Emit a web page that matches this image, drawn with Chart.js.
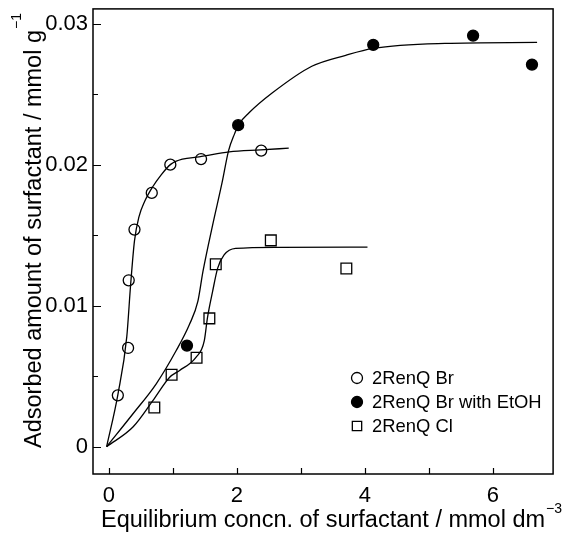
<!DOCTYPE html>
<html>
<head>
<meta charset="utf-8">
<script src="https://cdn.jsdelivr.net/npm/chart.js@4.4.0/dist/chart.umd.min.js"></script>
<style>
  html, body { margin: 0; padding: 0; background: #fff; }
  #wrap { width: 562px; height: 535px; }
</style>
</head>
<body>
<div id="wrap"><canvas id="adsorptionChart"></canvas></div>
<script>
// measured points: equilibrium concentration (mmol dm-3) vs adsorbed amount (mmol g-1)
const brConc = [0.14, 0.30, 0.31, 0.40, 0.67, 0.96, 1.44, 2.38];
const brAmount = [0.00364, 0.0070, 0.0118, 0.0154, 0.0180, 0.0200, 0.0204, 0.0210];

const etohConc = [1.22, 2.02, 4.13, 5.69, 6.61];
const etohAmount = [0.00717, 0.0228, 0.0285, 0.02916, 0.0271];

const clConc = [0.71, 0.98, 1.37, 1.57, 1.67, 2.53, 3.71];
const clAmount = [0.00277, 0.0051, 0.0063, 0.0091, 0.01294, 0.01463, 0.01264];

// hand-drawn isotherm curves through each series
const brFitConc = [-0.035, 0.14, 0.28, 0.34, 0.40, 0.47, 0.56, 0.68, 0.82, 0.97, 1.15, 1.41, 1.88, 2.37, 2.81];
const brFitAmount = [0, 0.00368, 0.0078, 0.0115, 0.0146, 0.0163, 0.0174, 0.0184, 0.0193, 0.02004, 0.0204, 0.02055, 0.02091, 0.02105, 0.02117];

const etohFitConc = [-0.035, 0.38, 0.74, 1.05, 1.26, 1.39, 1.47, 1.62, 1.77, 1.87, 1.96, 2.03, 2.19, 2.55, 3.17, 3.70, 4.13, 5.25, 6.69];
const etohFitAmount = [0, 0.00235, 0.00446, 0.0068, 0.00868, 0.0103, 0.01243, 0.0157, 0.01876, 0.0210, 0.02215, 0.02286, 0.02368, 0.02508, 0.02698, 0.02776, 0.02825, 0.0286, 0.02867];

const clFitConc = [-0.035, 0.38, 0.69, 0.95, 1.10, 1.36, 1.49, 1.54, 1.62, 1.70, 1.80, 1.98, 2.66, 4.04];
const clFitAmount = [0, 0.00141, 0.00328, 0.00492, 0.00539, 0.00633, 0.0075, 0.00914, 0.0110, 0.01266, 0.0136, 0.01406, 0.01414, 0.01415];

// axis ticks
const xMajorTicks = [0, 2, 4, 6];
const xMinorTicks = [1, 3, 5];
const yMajorTicks = [0, 0.01, 0.02, 0.03];
const yMinorTicks = [0.005, 0.015, 0.025];

const seriesNames = ['2RenQ Br', '2RenQ Br with EtOH', '2RenQ Cl'];

const FONT = '"Liberation Sans", Arial, sans-serif';

function toPoints(xs, ys) {
    return xs.map(function (x, i) { return { x: x, y: ys[i] }; });
}

function fitLine(xs, ys) {
    return {
        data: toPoints(xs, ys),
        showLine: true,
        borderColor: '#000',
        borderWidth: 1.3,
        pointRadius: 0,
        cubicInterpolationMode: 'monotone',
        fill: false
    };
}

const markerStyles = [
    { pointStyle: 'circle', radius: 5.5, fill: 'rgba(0,0,0,0)' },
    { pointStyle: 'circle', radius: 5.5, fill: '#000' },
    { pointStyle: 'rect', radius: 7.6, fill: 'rgba(0,0,0,0)' }
];

function markerSet(xs, ys, style) {
    return {
        data: toPoints(xs, ys),
        showLine: false,
        pointStyle: style.pointStyle,
        pointRadius: style.radius,
        pointBackgroundColor: style.fill,
        pointBorderColor: '#000',
        pointBorderWidth: 1.3
    };
}

// keep the tick labels from pushing the plot frame inwards
function noLabelPadding(scale) {
    scale.paddingTop = 0;
    scale.paddingBottom = 0;
    scale.paddingLeft = 0;
    scale.paddingRight = 0;
}

// frame, inward ticks, axis titles with superscripts, legend
const decorations = {
    id: 'decorations',
    afterDraw: function (chart) {
        const ctx = chart.ctx;
        const area = chart.chartArea;
        const xs = chart.scales.x;
        const ys = chart.scales.y;

        ctx.save();
        ctx.strokeStyle = '#000';
        ctx.lineWidth = 1.5;
        ctx.strokeRect(area.left, area.top, area.right - area.left, area.bottom - area.top);

        ctx.lineWidth = 1.2;
        ctx.beginPath();
        xMajorTicks.concat(xMinorTicks).forEach(function (v) {
            const px = Math.round(xs.getPixelForValue(v)) + 0.5;
            ctx.moveTo(px, area.bottom);
            ctx.lineTo(px, area.bottom - 6);
        });
        yMajorTicks.forEach(function (v) {
            const py = Math.round(ys.getPixelForValue(v)) + 0.5;
            ctx.moveTo(area.left, py);
            ctx.lineTo(area.left + 8, py);
        });
        yMinorTicks.forEach(function (v) {
            const py = Math.round(ys.getPixelForValue(v)) + 0.5;
            ctx.moveTo(area.left, py);
            ctx.lineTo(area.left + 5, py);
        });
        ctx.stroke();

        // axis titles
        ctx.fillStyle = '#000';
        ctx.textBaseline = 'alphabetic';
        ctx.textAlign = 'left';
        ctx.font = '23.5px ' + FONT;
        const xMain = 'Equilibrium concn. of surfactant / mmol dm';
        ctx.fillText(xMain, 101, 527);
        const xw = ctx.measureText(xMain).width;
        ctx.font = '14px ' + FONT;
        ctx.fillText('\u22123', 101 + xw + 1, 513);

        ctx.save();
        ctx.translate(41, 448);
        ctx.rotate(-Math.PI / 2);
        ctx.font = '23.5px ' + FONT;
        const yMain = 'Adsorbed amount of surfactant / mmol g';
        ctx.fillText(yMain, 0, 0);
        const yw = ctx.measureText(yMain).width;
        ctx.font = '14px ' + FONT;
        ctx.fillText('\u22121', yw + 1, -20);
        ctx.restore();

        // legend
        const legendX = 357;
        const legendY = [378, 402, 426];
        ctx.font = '18.4px ' + FONT;
        ctx.textBaseline = 'middle';
        seriesNames.forEach(function (name, i) {
            const st = markerStyles[i];
            ctx.fillStyle = st.fill;
            ctx.strokeStyle = '#000';
            ctx.lineWidth = 1.3;
            Chart.helpers.drawPoint(ctx, {
                pointStyle: st.pointStyle,
                radius: st.pointStyle === 'rect' ? 6.6 : 5.5,
                rotation: 0,
                borderWidth: 1.3
            }, legendX, legendY[i]);
            ctx.fillStyle = '#000';
            ctx.fillText(name, legendX + 15, legendY[i] + 1);
        });
        ctx.restore();
    }
};

const ctx = document.getElementById('adsorptionChart').getContext('2d');

new Chart(ctx, {
    type: 'scatter',
    data: {
        datasets: [
            markerSet(brConc, brAmount, markerStyles[0]),
            markerSet(etohConc, etohAmount, markerStyles[1]),
            markerSet(clConc, clAmount, markerStyles[2]),
            fitLine(brFitConc, brFitAmount),
            fitLine(etohFitConc, etohFitAmount),
            fitLine(clFitConc, clFitAmount)
        ]
    },
    options: {
        responsive: true,
        maintainAspectRatio: false,
        animation: false,
        layout: {
            padding: { left: 0, right: 4, top: 5, bottom: 0 }
        },
        scales: {
            x: {
                type: 'linear',
                min: -0.248,
                max: 6.94,
                grid: { display: false, drawTicks: false },
                border: { display: false },
                afterBuildTicks: function (scale) {
                    scale.ticks = xMajorTicks.map(function (v) { return { value: v }; });
                },
                afterFit: function (scale) {
                    scale.height = 61;
                    noLabelPadding(scale);
                },
                afterUpdate: noLabelPadding,
                ticks: {
                    padding: 9,
                    color: '#000',
                    font: { family: FONT, size: 22 },
                    maxRotation: 0,
                    callback: function (v) { return String(v); }
                }
            },
            y: {
                type: 'linear',
                min: -0.00194,
                max: 0.03105,
                grid: { display: false, drawTicks: false },
                border: { display: false },
                afterBuildTicks: function (scale) {
                    scale.ticks = yMajorTicks.map(function (v) { return { value: v }; });
                },
                afterFit: function (scale) {
                    scale.width = 93;
                    noLabelPadding(scale);
                },
                afterUpdate: noLabelPadding,
                ticks: {
                    padding: 5,
                    color: '#000',
                    font: { family: FONT, size: 22 },
                    callback: function (v) { return v === 0 ? '0' : v.toFixed(2); }
                }
            }
        },
        plugins: {
            legend: { display: false },
            tooltip: { enabled: false }
        }
    },
    plugins: [decorations]
});
</script>
</body>
</html>
